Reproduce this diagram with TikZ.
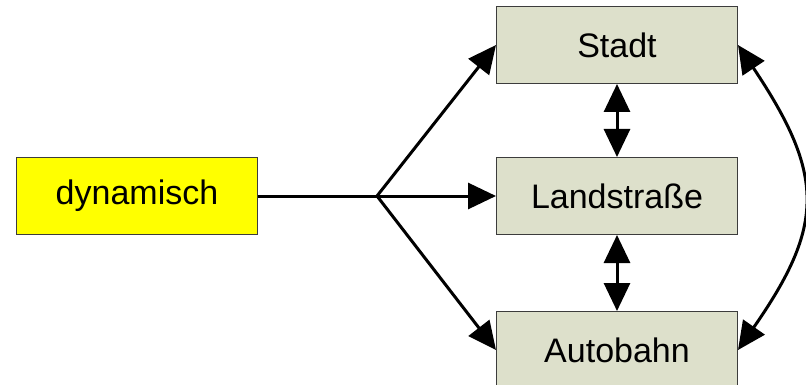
\documentclass[tikz,border=0pt]{standalone}
\usepackage{fontspec}
\setmainfont{Liberation Sans}
\usetikzlibrary{arrows.meta}
\definecolor{boxgreen}{RGB}{221,224,203}
\definecolor{boxyellow}{RGB}{255,255,0}
\definecolor{edgegray}{RGB}{60,60,60}
\begin{document}
\begin{tikzpicture}[x=1pt,y=-1pt,
  box/.style={draw=edgegray,line width=1pt,minimum width=241pt,minimum height=77pt,inner sep=0pt,font=\fontsize{34}{40}\selectfont},
  conn/.style={line width=3pt},
  tip/.style={-{Triangle[length=28pt,width=26pt]}},
  dtip/.style={{Triangle[length=28pt,width=26pt]}-{Triangle[length=28pt,width=26pt]}}]
\useasboundingbox (0,0) rectangle (806,385);
\node[box,fill=boxyellow] (dyn) at (137,196) {dynamisch};
\node[box,fill=boxgreen] (stadt) at (617,45) {Stadt};
\node[box,fill=boxgreen] (land) at (617,196) {Landstraße};
\node[box,fill=boxgreen] (auto) at (617,350) {Autobahn};
\coordinate (br) at (377,196);
\draw[conn] (dyn.east) -- (br);
\draw[conn,tip] (br) -- (stadt.west);
\draw[conn,tip] (br) -- (land.west);
\draw[conn,tip] (br) -- (auto.west);
\draw[conn,dtip] (stadt.south) -- (land.north);
\draw[conn,dtip] (land.south) -- (auto.north);
\draw[conn,dtip] (stadt.east) .. controls (825,175) and (825,225) .. (auto.east);
\end{tikzpicture}
\end{document}
